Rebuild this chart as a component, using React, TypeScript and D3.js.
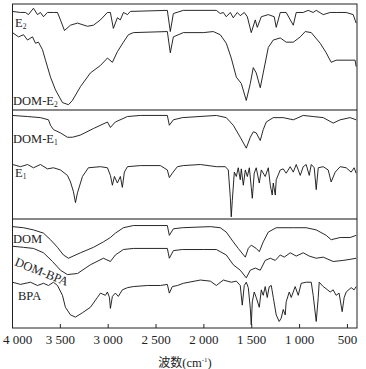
import React from 'react';
import * as d3 from 'd3';

const W = 366;
const H = 369;

// wavenumber ticks (cm-1)
const xTicks = [4000, 3500, 3000, 2500, 2000, 1500, 1000, 500];

// spectra: [wavenumber, relative transmittance within its panel]
const e2: [number, number][] = [
  [4000, 93], [3916, 92], [3864, 92], [3833, 90], [3781, 96], [3739, 90], [3708, 92], [3676, 88],
  [3635, 92], [3572, 92], [3530, 92], [3499, 85], [3457, 75], [3394, 80], [3321, 82], [3217, 79],
  [3154, 80], [3081, 85], [3008, 92], [2977, 92], [2946, 77], [2904, 87], [2873, 85], [2841, 92],
  [2799, 90], [2768, 93], [2382, 94], [2351, 74], [2319, 91], [2215, 94], [1870, 94], [1829, 91],
  [1797, 92], [1766, 88], [1724, 92], [1693, 87], [1651, 92], [1620, 89], [1578, 92], [1546, 88],
  [1505, 73], [1463, 85], [1442, 78], [1400, 88], [1327, 90], [1265, 88], [1244, 78], [1202, 92],
  [1140, 92], [1066, 80], [1035, 92], [962, 92], [910, 94], [858, 92], [826, 94], [753, 90],
  [680, 92], [618, 92], [513, 92], [440, 90], [409, 82]
];

const domE2: [number, number][] = [
  [4000, 73], [3937, 69], [3885, 71], [3843, 66], [3791, 69], [3760, 63], [3729, 64], [3687, 57],
  [3655, 47], [3603, 31], [3551, 19], [3478, 7], [3415, 5], [3374, 9], [3290, 22], [3186, 35],
  [3081, 42], [3008, 49], [2956, 45], [2904, 55], [2841, 64], [2789, 71], [2737, 73], [2382, 74],
  [2351, 54], [2319, 69], [2215, 73], [2006, 73], [1902, 74], [1829, 71], [1766, 63], [1714, 49],
  [1661, 31], [1609, 25], [1557, 9], [1515, 25], [1484, 40], [1453, 35], [1411, 21], [1380, 35],
  [1327, 59], [1275, 66], [1202, 68], [1140, 64], [1066, 64], [993, 69], [941, 74], [878, 73],
  [785, 63], [722, 54], [670, 45], [618, 47], [472, 47], [420, 47], [409, 41]
];

const domE1: [number, number][] = [
  [4000, 95], [3843, 94], [3708, 93], [3624, 91], [3603, 86], [3572, 82], [3499, 79], [3426, 75],
  [3374, 75], [3290, 77], [3154, 83], [3008, 89], [2977, 84], [2925, 89], [2799, 94], [2664, 95],
  [2382, 95], [2361, 86], [2319, 91], [2225, 93], [1870, 95], [1766, 93], [1693, 86], [1620, 75],
  [1557, 65], [1515, 75], [1484, 80], [1453, 79], [1411, 72], [1380, 82], [1348, 89], [1275, 93],
  [1171, 93], [1066, 91], [962, 95], [858, 94], [753, 93], [649, 88], [576, 91], [472, 93], [409, 91]
];

const e1: [number, number][] = [
  [4000, 50], [3916, 48], [3843, 50], [3781, 47], [3708, 50], [3635, 46], [3572, 47], [3499, 45],
  [3426, 40], [3394, 34], [3363, 25], [3342, 15], [3321, 24], [3269, 39], [3207, 47], [3081, 48],
  [3008, 47], [2977, 40], [2956, 31], [2935, 39], [2904, 33], [2873, 39], [2852, 29], [2831, 43],
  [2799, 48], [2664, 49], [2455, 49], [2382, 45], [2361, 38], [2330, 42], [2277, 48], [2215, 49],
  [2037, 50], [1870, 48], [1776, 48], [1745, 45], [1724, 20], [1714, 2], [1703, 17], [1682, 43],
  [1661, 39], [1641, 47], [1620, 36], [1609, 46], [1588, 31], [1567, 45], [1546, 39], [1525, 47],
  [1505, 29], [1494, 19], [1474, 42], [1453, 47], [1421, 33], [1400, 45], [1359, 39], [1327, 47],
  [1306, 31], [1286, 22], [1275, 33], [1254, 22], [1244, 36], [1202, 45], [1171, 46], [1140, 42],
  [1098, 48], [1066, 43], [1035, 50], [993, 40], [962, 48], [931, 50], [899, 40], [878, 50],
  [847, 47], [826, 27], [805, 47], [753, 48], [701, 45], [670, 34], [628, 43], [576, 48],
  [513, 47], [461, 43], [430, 47], [409, 42]
];

const dom: [number, number][] = [
  [4000, 93], [3885, 92], [3781, 90], [3676, 87], [3603, 81], [3530, 74], [3468, 67], [3415, 64],
  [3290, 69], [3154, 74], [3050, 79], [2977, 83], [2925, 87], [2841, 92], [2737, 94], [2382, 94],
  [2361, 85], [2319, 91], [2225, 92], [1933, 93], [1829, 92], [1766, 88], [1693, 79], [1641, 73],
  [1567, 65], [1536, 73], [1505, 76], [1453, 73], [1421, 70], [1380, 79], [1327, 88], [1244, 92],
  [1066, 92], [931, 92], [826, 90], [722, 85], [670, 81], [576, 83], [472, 83], [409, 85]
];

const domBpa: [number, number][] = [
  [4000, 75], [3885, 74], [3781, 73], [3676, 69], [3582, 61], [3499, 53], [3426, 49], [3321, 50],
  [3186, 58], [3050, 64], [2977, 61], [2925, 67], [2841, 72], [2737, 73], [2382, 73], [2361, 64],
  [2319, 71], [2225, 72], [2006, 72], [1870, 72], [1766, 67], [1693, 58], [1620, 53], [1557, 46],
  [1515, 53], [1463, 55], [1411, 53], [1359, 62], [1306, 64], [1254, 62], [1202, 67], [1160, 65],
  [1098, 69], [1035, 66], [962, 69], [899, 66], [826, 64], [753, 65], [649, 61], [545, 62],
  [472, 63], [409, 64]
];

const bpa: [number, number][] = [
  [4000, 42], [3916, 40], [3812, 42], [3739, 39], [3676, 41], [3624, 39], [3572, 42], [3530, 39],
  [3478, 30], [3447, 19], [3394, 12], [3342, 10], [3269, 14], [3186, 19], [3113, 28], [3081, 32],
  [3029, 30], [3008, 33], [2987, 28], [2977, 18], [2956, 29], [2925, 32], [2894, 29], [2852, 35],
  [2799, 37], [2737, 38], [2591, 39], [2455, 39], [2382, 40], [2361, 32], [2330, 38], [2277, 39],
  [2215, 41], [2037, 44], [1933, 43], [1870, 39], [1797, 44], [1714, 42], [1661, 43], [1620, 39],
  [1599, 21], [1578, 39], [1557, 42], [1536, 37], [1515, 18], [1505, 3], [1494, 24], [1474, 33],
  [1453, 28], [1421, 19], [1400, 35], [1380, 30], [1359, 38], [1338, 28], [1317, 38], [1296, 39],
  [1275, 28], [1244, 12], [1213, 6], [1192, 9], [1171, 17], [1150, 12], [1140, 24], [1108, 33],
  [1087, 28], [1046, 38], [1014, 30], [983, 41], [931, 42], [878, 42], [858, 30], [826, 6],
  [805, 28], [795, 42], [753, 38], [722, 36], [680, 33], [649, 35], [618, 30], [587, 32],
  [555, 15], [534, 28], [513, 33], [461, 37], [430, 35], [409, 38]
];

const plot = { left: 12.5, right: 357, top: 4, bottom: 328 };
const dividers = [110, 219];

const panels = [
  { top: plot.top, bottom: dividers[0], series: [e2, domE2] },
  { top: dividers[0], bottom: dividers[1], series: [domE1, e1] },
  { top: dividers[1], bottom: plot.bottom, series: [dom, domBpa, bpa] }
];

const x = d3.scaleLinear().domain([4000, 400]).range([plot.left, plot.right]);
const fmt = d3.formatLocale({ decimal: '.', thousands: ' ', grouping: [3], currency: ['', ''] }).format(',');

const serif = '"Liberation Serif", "Times New Roman", serif';

function Label({ x, y, main, sub, rotate }: { x: number; y: number; main: string; sub?: string; rotate?: number }) {
  return (
    <text
      x={x}
      y={y}
      fontFamily={serif}
      fontSize={12.5}
      fill="#222"
      transform={rotate ? `rotate(${rotate} ${x} ${y})` : undefined}
    >
      {main}
      {sub && <tspan fontSize={7.5} dy={1.5}>{sub}</tspan>}
    </text>
  );
}

export default function App() {
  const paths = panels.flatMap((p, i) => {
    const y = d3.scaleLinear().domain([0, 100]).range([p.bottom, p.top]);
    const line = d3.line<[number, number]>().x(d => x(d[0])).y(d => y(d[1]));
    return p.series.map((s, j) => (
      <path key={`${i}-${j}`} d={line(s) || ''} fill="none" stroke="#111" strokeWidth={0.9} strokeLinejoin="round" />
    ));
  });

  return (
    <svg width={W} height={H} style={{ position: 'absolute', left: 0, top: 0, background: '#fff' }}>
      <rect x={0} y={0} width={W} height={H} fill="#fff" />
      <g clipPath="url(#clip)">{paths}</g>
      <defs>
        <clipPath id="clip">
          <rect x={plot.left} y={plot.top} width={plot.right - plot.left} height={plot.bottom - plot.top} />
        </clipPath>
      </defs>
      {dividers.map(d => (
        <line key={d} x1={plot.left} x2={plot.right} y1={d} y2={d} stroke="#888" strokeWidth={1.8} />
      ))}
      <rect
        x={plot.left}
        y={plot.top}
        width={plot.right - plot.left}
        height={plot.bottom - plot.top}
        fill="none"
        stroke="#222"
        strokeWidth={1}
      />
      {xTicks.map(t => (
        <g key={t}>
          <line x1={x(t)} x2={x(t)} y1={plot.bottom} y2={plot.bottom - 4} stroke="#222" strokeWidth={1} />
          <text
            x={Math.max(x(t), 17.5)}
            y={344}
            textAnchor="middle"
            fontFamily={serif}
            fontSize={13}
            fill="#222"
          >
            {fmt(t)}
          </text>
        </g>
      ))}
      <text x={185} y={367} textAnchor="middle" fontFamily={serif} fontSize={12.5} fill="#222">
        <tspan fontFamily='"Noto Sans CJK SC", sans-serif' fontSize={12}>波数</tspan>
        <tspan>(cm</tspan>
        <tspan fontSize={7} dy={-5}>-1</tspan>
        <tspan dy={5}>)</tspan>
      </text>
      <Label x={15} y={27} main="E" sub="2" />
      <Label x={13} y={105} main="DOM-E" sub="2" />
      <Label x={13} y={143} main="DOM-E" sub="1" />
      <Label x={15} y={177} main="E" sub="1" />
      <Label x={13} y={243} main="DOM" />
      <Label x={14} y={265} main="DOM-BPA" rotate={22} />
      <Label x={18} y={300} main="BPA" />
    </svg>
  );
}
